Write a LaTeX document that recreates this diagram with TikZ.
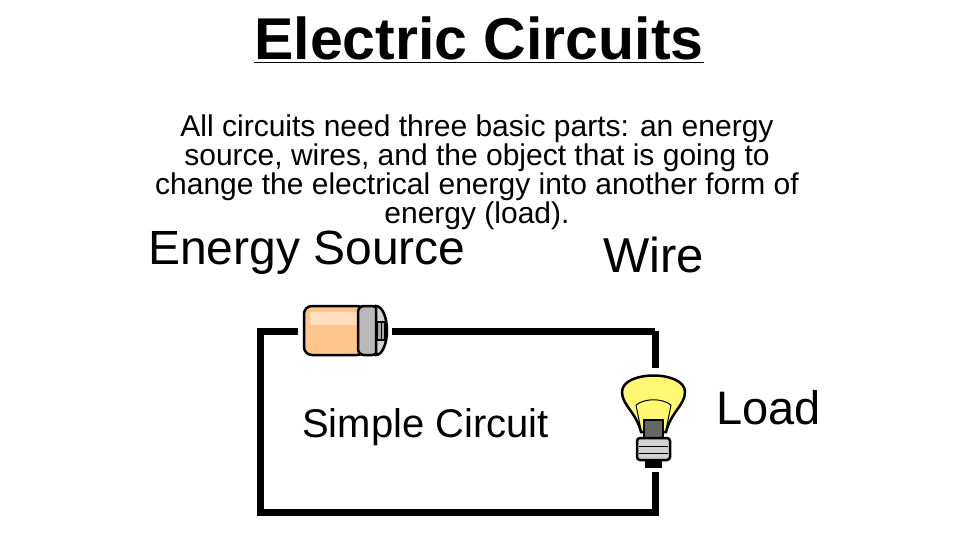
\documentclass[tikz,border=0pt]{standalone}
\usepackage{fontspec}
\setmainfont{Liberation Sans}
\begin{document}
\begin{tikzpicture}[x=1pt,y=-1pt,
  txt/.style={inner sep=0pt,anchor=base west},
  wire/.style={line width=7pt,line join=miter}]
\useasboundingbox (0,0) rectangle (960,540);
\node[inner sep=0pt,anchor=base] (title) at (479,60) {\fontsize{59}{60}\selectfont\bfseries\underline{Electric Circuits}};
\node[inner sep=0pt,align=center,anchor=north,font=\fontsize{30}{27.5}\selectfont] (para) at (477,115) {All circuits need three basic parts: an energy\\ source, wires, and the object that is going to\\ change the electrical energy into another form of\\ energy (load).};
\node[txt] (es) at (148,264) {\fontsize{48}{50}\selectfont Energy Source};
\node[txt] (w) at (603,272) {\fontsize{49}{50}\selectfont Wire};
\node[txt] (ld) at (716,424) {\fontsize{47}{50}\selectfont Load};
% circuit
\coordinate (tl) at (260,331); \coordinate (tr) at (655,331);
\coordinate (br) at (655,512); \coordinate (bl) at (260,512);
\draw[wire] (tr) -- (tl) -- (bl) -- (br) -- (tr);
\node[txt] (sc) at (302,437) {\fontsize{40}{44}\selectfont Simple Circuit};
% battery
\fill[white] (298,300) rectangle (392,362);
\draw[line width=2.5pt,fill=orange!45!white,rounded corners=8pt] (304,306) rectangle (365,355);
\fill[orange!25!white] (310,312) rectangle (360,325);
\draw[line width=2.5pt,fill=gray!55,rounded corners=6pt] (358,306) rectangle (378,355);
\draw[line width=2.5pt,fill=gray!35] (376,306) arc(-90:90:11 and 24.5) -- cycle;
\draw[line width=1.5pt,fill=gray!70] (377,322) rectangle (385,340);
\draw[line width=1pt] (381,322) -- (381,340);
% bulb
\fill[white] (615,368) rectangle (695,472);
\draw[line width=2.5pt,fill=yellow!55] (641,432) .. controls (636,412) and (622,405) .. (622,392)
  .. controls (622,370) and (685,370) .. (685,392)
  .. controls (685,405) and (671,412) .. (666,432) -- cycle;
\draw[line width=1pt] (641,430) -- (636,405) (666,430) -- (671,405);
\draw[line width=1pt] (636,405) .. controls (645,398) and (662,398) .. (671,405);
\draw[line width=2pt,fill=gray!80!black] (644,420) rectangle (663,440);
\draw[line width=2.5pt,fill=gray!35,rounded corners=3pt] (637,438) rectangle (670,460);
\draw[line width=1pt] (639,446) -- (668,446) (639,453) -- (668,453);
\draw[line width=2.5pt,fill=black] (646,460) rectangle (661,467);
\end{tikzpicture}
\end{document}
